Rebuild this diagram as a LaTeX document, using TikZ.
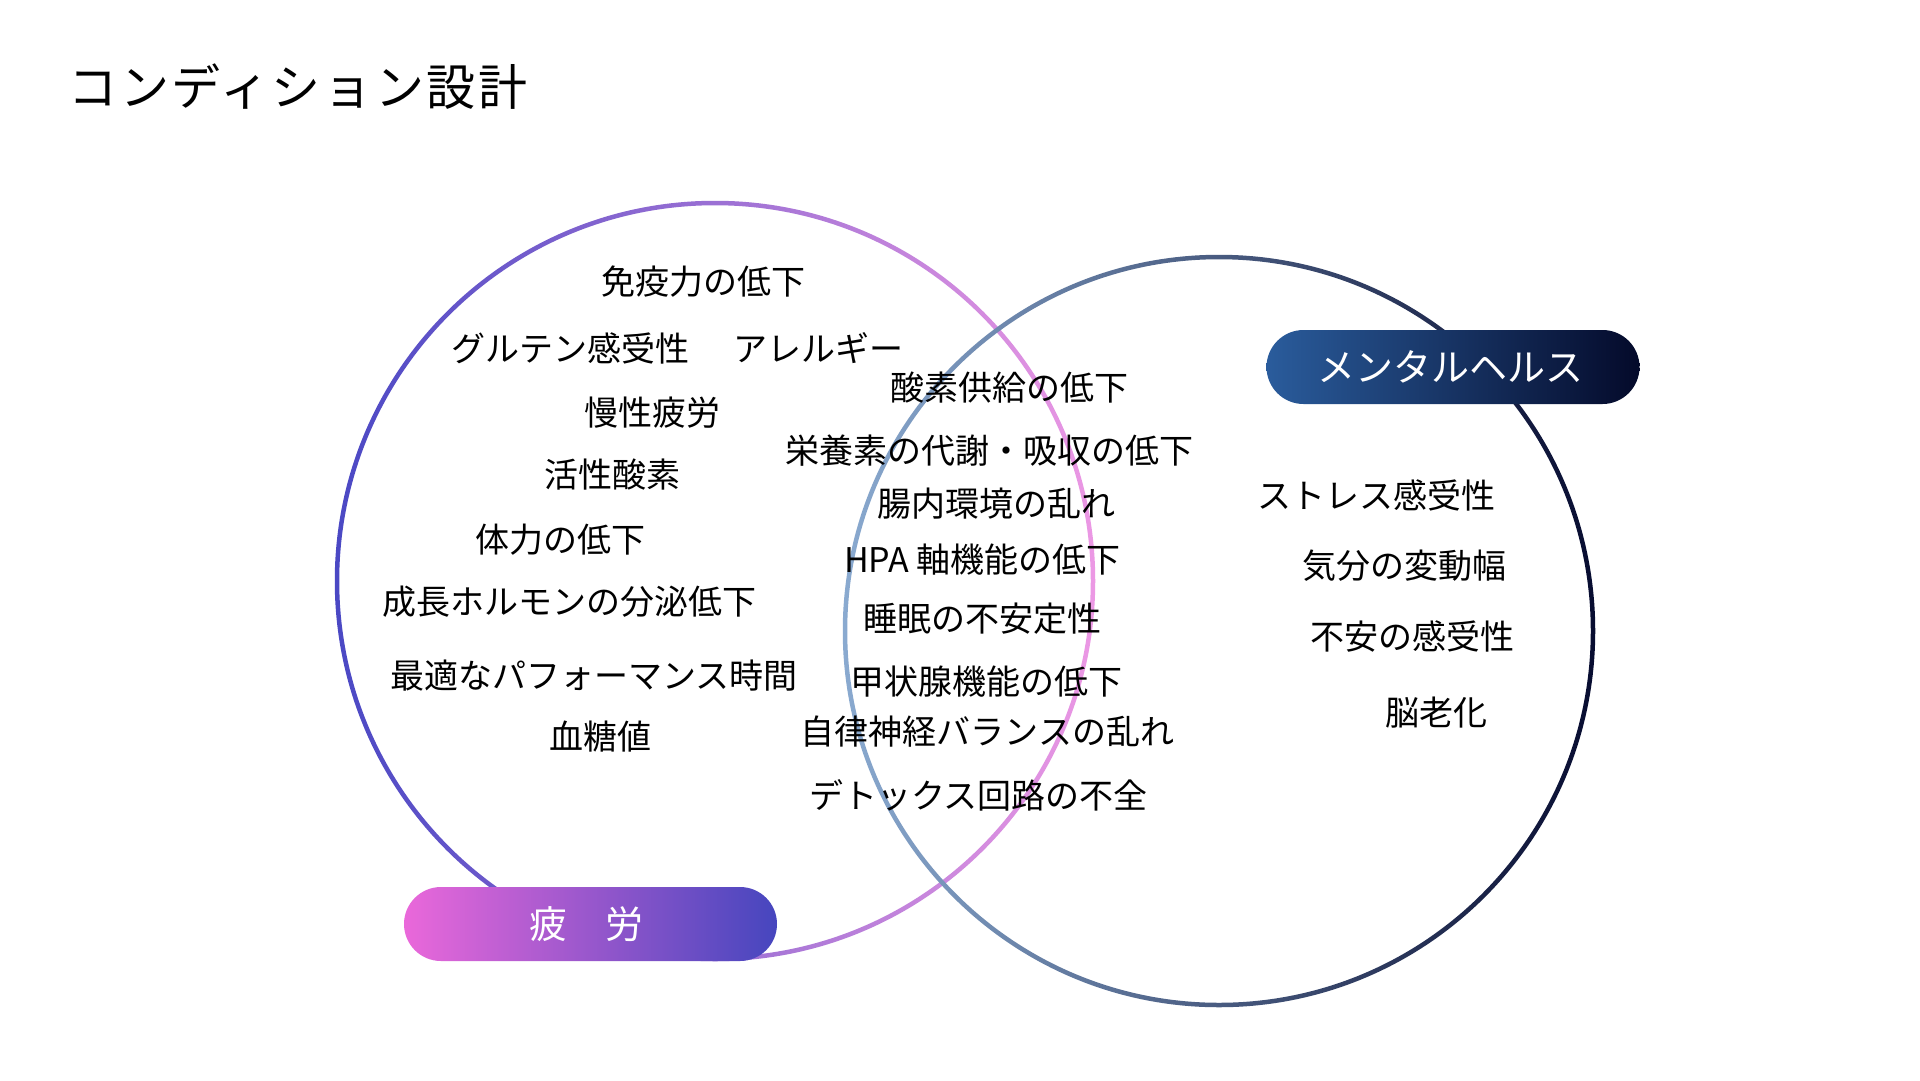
\documentclass[tikz,border=0pt]{standalone}
\usepackage{fontspec}
\setmainfont{Noto Sans CJK JP}
\newfontfamily\ttlfont[LetterSpace=5.5]{Noto Sans CJK JP}
\definecolor{fatL}{HTML}{4A48C4}
\definecolor{fatM}{HTML}{B474D8}
\definecolor{fatR}{HTML}{EC98E4}
\definecolor{menL}{HTML}{8AAAD0}
\definecolor{menM}{HTML}{4A6898}
\definecolor{menR}{HTML}{070C30}
\definecolor{pfL}{HTML}{EA68DA}
\definecolor{pfR}{HTML}{4646BE}
\definecolor{pmL}{HTML}{2A5C9C}
\definecolor{pmR}{HTML}{040A2A}
\begin{document}
\begin{tikzpicture}[x=1pt,y=-1pt,
  txt/.style={font=\fontsize{34}{40}\selectfont, inner sep=0pt, text=black},
  ttl/.style={font=\ttlfont\fontsize{49}{56}\selectfont, inner sep=0pt, text=black},
  pill/.style={rounded corners=37pt, minimum width=373pt, minimum height=74pt, inner sep=0pt},
  pilltxt/.style={font=\fontsize{38}{44}\selectfont, inner sep=0pt, text=white}
]
\useasboundingbox[fill=white] (0,0) rectangle (1920,1080);
\coordinate (fc) at (715,581);
\coordinate (mc) at (1219,631);
% circles with gradient strokes
\shade[even odd rule, left color=fatL, middle color=fatM, right color=fatR]
  (fc) circle[radius=380.25pt] (fc) circle[radius=375.75pt];
\shade[even odd rule, left color=menL, middle color=menM, right color=menR]
  (mc) circle[radius=376.25pt] (mc) circle[radius=371.75pt];
% title
\node[ttl] (title) at (298,86.5) {コンディション設計};
% fatigue side
\node[txt] (a1) at (703,282) {免疫力の低下};
\node[txt] (a2) at (570,348) {グルテン感受性};
\node[txt] (a3) at (818,348) {アレルギー};
\node[txt] (a4) at (652,413) {慢性疲労};
\node[txt] (a5) at (612,475) {活性酸素};
\node[txt] (a6) at (560,540) {体力の低下};
\node[txt] (a7) at (569,602) {成長ホルモンの分泌低下};
\node[txt] (a8) at (594,676) {最適なパフォーマンス時間};
\node[txt] (a9) at (600,737) {血糖値};
% overlap
\node[txt] (b1) at (1009.5,387.5) {酸素供給の低下};
\node[txt] (b2) at (989.5,451) {栄養素の代謝・吸収の低下};
\node[txt] (b3) at (996.5,504) {腸内環境の乱れ};
\node[txt] (b4) at (982.5,560) {HPA 軸機能の低下};
\node[txt] (b5) at (982.5,619) {睡眠の不安定性};
\node[txt] (b6) at (986,682) {甲状腺機能の低下};
\node[txt] (b7) at (987.5,732) {自律神経バランスの乱れ};
\node[txt] (b8) at (978.5,795) {デトックス回路の不全};
% mental side
\node[txt] (c1) at (1376,495) {ストレス感受性};
\node[txt] (c2) at (1404,566) {気分の変動幅};
\node[txt] (c3) at (1412,636) {不安の感受性};
\node[txt] (c4) at (1436,713) {脳老化};
% pills
\node[pill, left color=pfL, right color=pfR] (pf) at (590.5,924) {};
\node[pilltxt] (pft) at (586,924) {疲　労};
\node[pill, left color=pmL, right color=pmR] (pm) at (1453,367) {};
\node[pilltxt] (pmt) at (1450.5,367) {メンタルヘルス};
\end{tikzpicture}
\end{document}
